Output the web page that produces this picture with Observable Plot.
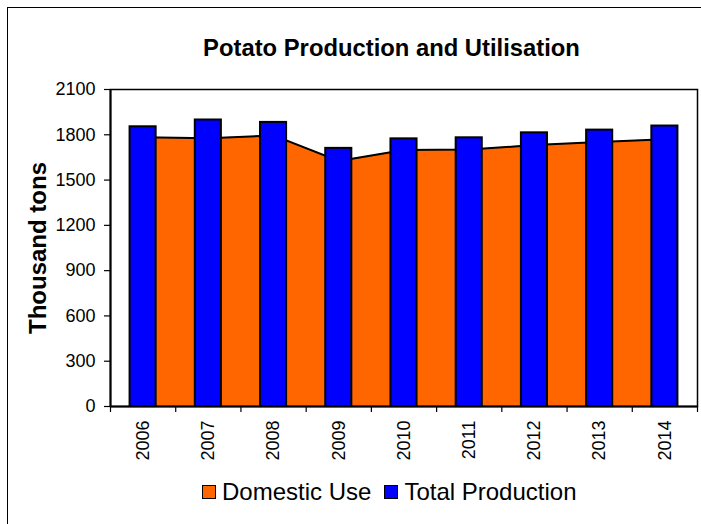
<!DOCTYPE html>
<html>
<head>
<meta charset="utf-8">
<script src="https://cdn.jsdelivr.net/npm/d3@7"></script>
<script src="https://cdn.jsdelivr.net/npm/@observablehq/plot@0.6"></script>
<style>
  html, body { margin: 0; padding: 0; background: #fff; }
  body { width: 701px; height: 524px; overflow: hidden; position: relative; font-family: "Liberation Sans", Arial, sans-serif; }
  #border { position: absolute; left: 7px; top: 7px; width: 760px; height: 600px; border: 1px solid #000; box-sizing: border-box; pointer-events: none; }
  #title { position: relative; height: 70px; box-sizing: border-box; padding-top: 34px; padding-left: 82px; line-height: 28px; font-size: 23.8px; font-weight: bold; text-align: center; color: #000; }
  #chart { position: relative; height: 396px; }
  #chart svg { display: block; overflow: visible; }
  #legend { position: relative; height: 52px; display: flex; align-items: center; padding-left: 202px; font-size: 24px; color: #000; }
  .sw { width: 14px; height: 14px; box-sizing: border-box; border: 1.5px solid #000; flex: none; }
  .lab { margin-left: 6px; white-space: nowrap; }
</style>
</head>
<body>
<div id="border"></div>
<div id="title">Potato Production and Utilisation</div>
<div id="chart"></div>
<div id="legend">
  <span class="sw" style="background:#FF6600"></span><span class="lab">Domestic Use</span>
  <span class="sw" style="background:#0000FF; margin-left:13px"></span><span class="lab">Total Production</span>
</div>
<script>
const years = [2006, 2007, 2008, 2009, 2010, 2011, 2012, 2013, 2014];
const domesticUse = [1783, 1777, 1796, 1626, 1699, 1702, 1732, 1752, 1771];
const totalProduction = [1853, 1898, 1882, 1710, 1773, 1780, 1813, 1831, 1858];
const yTicks = [0, 300, 600, 900, 1200, 1500, 1800, 2100];
const yTitle = "Thousand tons";

const data = years.map((y, i) => ({year: y, domestic: domesticUse[i], total: totalProduction[i]}));
const bounds = years.map(y => y - 0.5).concat([years[years.length - 1] + 0.5]);
const halfBar = 0.2;

const chart = Plot.plot({
  width: 701,
  height: 396,
  marginLeft: 110,
  marginRight: 4,
  marginTop: 19,
  marginBottom: 60,
  style: {fontFamily: "Liberation Sans, Arial, sans-serif", background: "transparent", color: "#000", overflow: "visible"},
  x: {domain: [years[0] - 0.5, years[years.length - 1] + 0.5], label: null},
  y: {domain: [0, 2100], label: null},
  marks: [
    Plot.areaY(data, {x: "year", y: "domestic", fill: "#FF6600"}),
    Plot.lineY(data, {x: "year", y: "domestic", stroke: "#000", strokeWidth: 2}),
    Plot.rect(data, {x1: d => d.year - halfBar, x2: d => d.year + halfBar, y1: 0, y2: "total", fill: "#0000FF", stroke: "#000", strokeWidth: 2}),
    Plot.frame({stroke: "#000", strokeWidth: 1.5}),
    Plot.ruleY([0], {stroke: "#000", strokeWidth: 2}),
    Plot.ruleX([bounds[0]], {stroke: "#000", strokeWidth: 2}),
    Plot.axisY(yTicks, {tickSize: 6, tickPadding: 9, fontSize: 18, tickFormat: d => String(d), label: null, stroke: "#000", strokeWidth: 1.2}),
    Plot.axisX(bounds, {tickSize: 6, tickFormat: () => "", label: null, stroke: "#000", strokeWidth: 1.2}),
    Plot.axisX(years, {tickSize: 0, tickPadding: 14, tickRotate: -90, fontSize: 18, tickFormat: d => String(d), label: null}),
    Plot.text([yTitle], {frameAnchor: "left", textAnchor: "middle", dx: -72, rotate: -90, fontSize: 24, fontWeight: "bold", fill: "#000"})
  ]
});
document.getElementById("chart").appendChild(chart);
</script>
</body>
</html>
